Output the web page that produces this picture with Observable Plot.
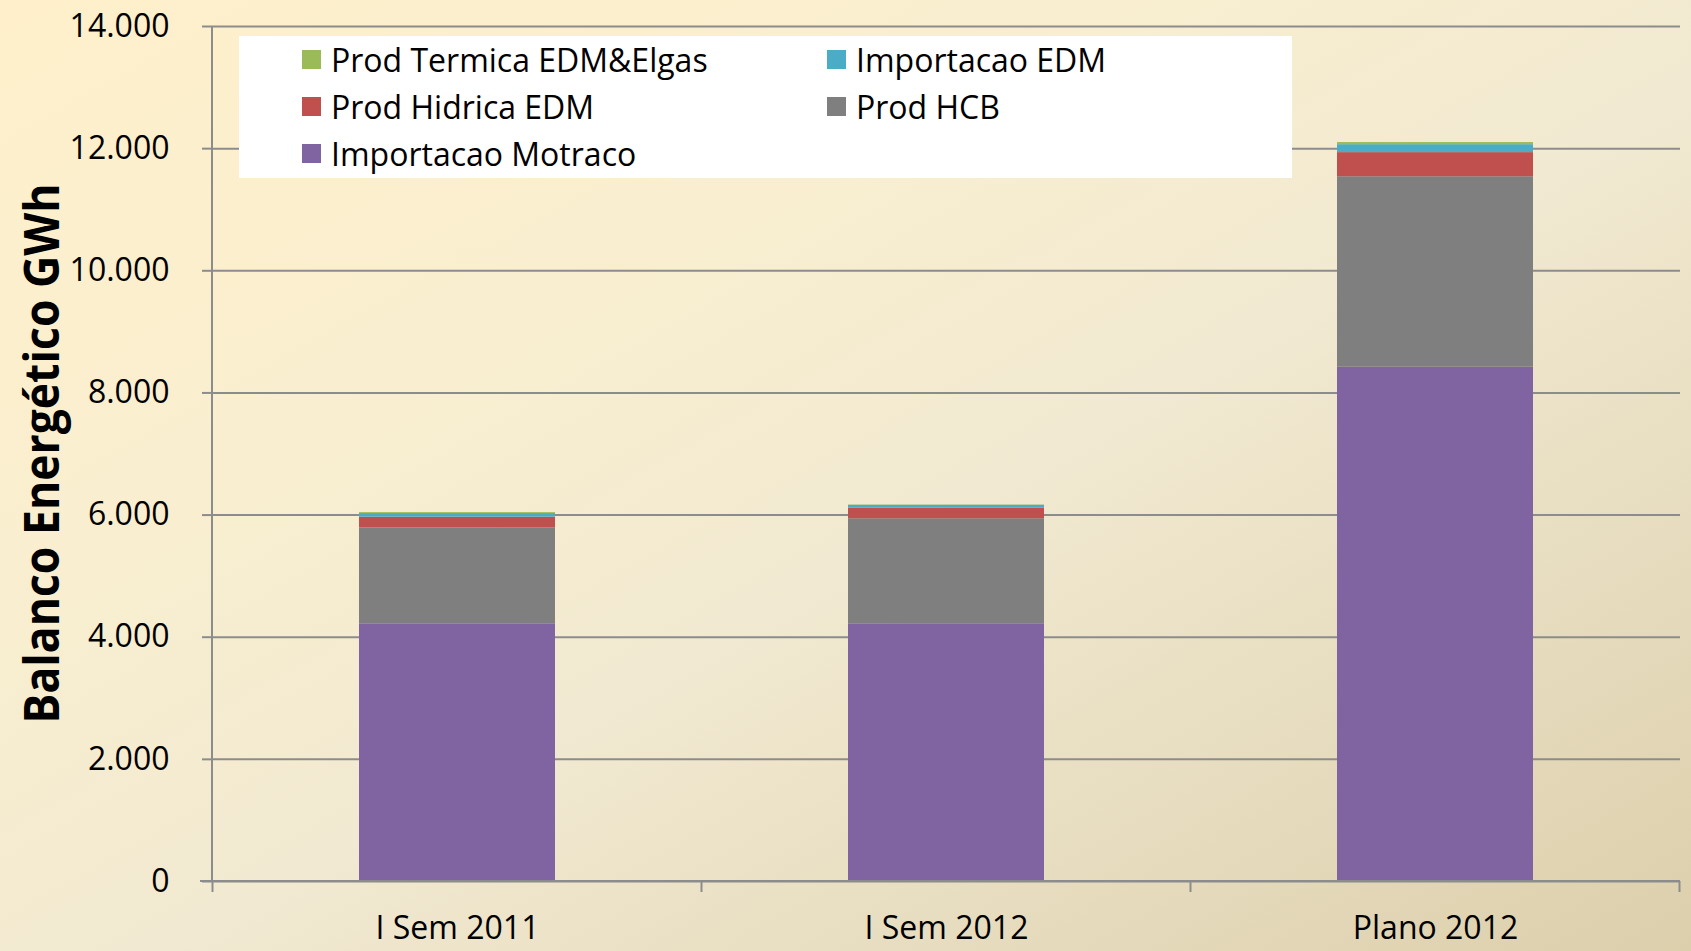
<!DOCTYPE html>
<html>
<head>
<meta charset="utf-8">
<script src="https://cdn.jsdelivr.net/npm/d3@7"></script>
<script src="https://cdn.jsdelivr.net/npm/@observablehq/plot@0.6"></script>
<style>
  html, body { margin: 0; padding: 0; }
  #wrap {
    position: relative; width: 1691px; height: 951px; overflow: hidden;
    background: linear-gradient(to bottom right, #fff0cb 0%, #f8eed0 35%, #f1e9d1 55%, #dccfac 100%);
    font-family: "Open Sans", sans-serif;
  }
  #chart { position: absolute; left: 0; top: 0; }
  #legend {
    position: absolute; left: 239px; top: 36px; width: 1053px; height: 142px;
    background: #ffffff;
  }
  .item { position: absolute; height: 40px; display: flex; align-items: center; font-size: 32px; color: #000; white-space: nowrap; }
  .sw { width: 19px; height: 19px; margin-right: 10px; }
</style>
</head>
<body>
<div id="wrap">
  <div id="chart"></div>
  <div id="legend"></div>
</div>
<script>
// ---- data ----
const categories = ["I Sem 2011", "I Sem 2012", "Plano 2012"];
const seriesNames = ["Importacao Motraco", "Prod HCB", "Prod Hidrica EDM", "Importacao EDM", "Prod Termica EDM&Elgas"];
const seriesColors = ["#8064a2", "#7f7f7f", "#c0504d", "#4bacc6", "#9bbb59"];
const importacaoMotraco = [4220, 4220, 8420];
const prodHCB = [1570, 1720, 3120];
const prodHidricaEDM = [175, 175, 395];
const importacaoEDM = [60, 45, 130];
const prodTermica = [15, 5, 35];
const yTicks = [0, 2000, 4000, 6000, 8000, 10000, 12000, 14000];
const yTickLabels = ["0", "2.000", "4.000", "6.000", "8.000", "10.000", "12.000", "14.000"];
const yTitle = "Balanco Energético GWh";
const legendOrder = ["Prod Termica EDM&Elgas", "Importacao EDM", "Prod Hidrica EDM", "Prod HCB", "Importacao Motraco"];

const seriesValues = [importacaoMotraco, prodHCB, prodHidricaEDM, importacaoEDM, prodTermica];
const table = categories.flatMap((c, i) =>
  seriesNames.map((s, j) => ({category: c, series: s, value: seriesValues[j][i]})));

const axisColor = "#8c8c8c";

const plot = Plot.plot({
  width: 1691,
  height: 951,
  marginLeft: 212,
  marginRight: 11,
  marginTop: 26,
  marginBottom: 70,
  style: {background: "transparent", fontFamily: "'Open Sans', sans-serif", color: "#000", overflow: "visible"},
  x: {domain: categories, paddingInner: 0.6, paddingOuter: 0.3, label: null},
  y: {domain: [0, 14000], label: null},
  color: {domain: seriesNames, range: seriesColors},
  marks: [
    Plot.gridY(yTicks, {stroke: axisColor, strokeOpacity: 1, strokeWidth: 2}),
    Plot.barY(table, {x: "category", y: "value", fill: "series", order: seriesNames}),
    Plot.axisY(yTicks, {
      tickFormat: d => yTickLabels[yTicks.indexOf(d)],
      tickSize: 10, tickPadding: 33, fontSize: 32,
      stroke: axisColor, strokeWidth: 2, fill: "#000", label: null
    }),
    Plot.axisX({tickSize: 0, tickPadding: 35, fontSize: 32, fill: "#000", label: null})
  ]
});
document.getElementById("chart").appendChild(plot);

// axis lines & category boundary ticks, from the library's scales
const xs = plot.scale("x");
const ys = plot.scale("y");
const svg = d3.select(plot);
const [xLeft, xRight] = xs.range;
const y0 = ys.apply(0), yTop = ys.apply(14000);
const g = svg.append("g").attr("stroke", axisColor).attr("stroke-width", 2);
g.append("line").attr("x1", xLeft).attr("x2", xLeft).attr("y1", yTop).attr("y2", y0);
g.append("line").attr("x1", xLeft - 12).attr("x2", xRight).attr("y1", y0).attr("y2", y0);
const bounds = xs.domain.map(c => xs.apply(c) - (xs.step - xs.bandwidth) / 2);
bounds.push(bounds[bounds.length - 1] + xs.step);
bounds.forEach(b => g.append("line").attr("x1", b).attr("x2", b).attr("y1", y0).attr("y2", y0 + 11));

// y axis title
svg.append("text")
  .attr("transform", `translate(59,${(yTop + y0) / 2 + 0}) rotate(-90)`)
  .attr("text-anchor", "middle")
  .attr("font-family", "'Open Sans', sans-serif")
  .attr("font-weight", "bold")
  .attr("font-size", 48)
  .attr("textLength", 540)
  .attr("lengthAdjust", "spacingAndGlyphs")
  .attr("fill", "#000")
  .text(yTitle);

// legend
const legend = document.getElementById("legend");
const colLeft = [63, 588];
const rowTop = [3, 50, 97];
legendOrder.forEach((name, k) => {
  const div = document.createElement("div");
  div.className = "item";
  div.style.left = colLeft[k % 2] + "px";
  div.style.top = rowTop[Math.floor(k / 2)] + "px";
  const sw = document.createElement("div");
  sw.className = "sw";
  sw.style.background = seriesColors[seriesNames.indexOf(name)];
  const tx = document.createElement("span");
  tx.textContent = name;
  div.appendChild(sw);
  div.appendChild(tx);
  legend.appendChild(div);
});
</script>
</body>
</html>
